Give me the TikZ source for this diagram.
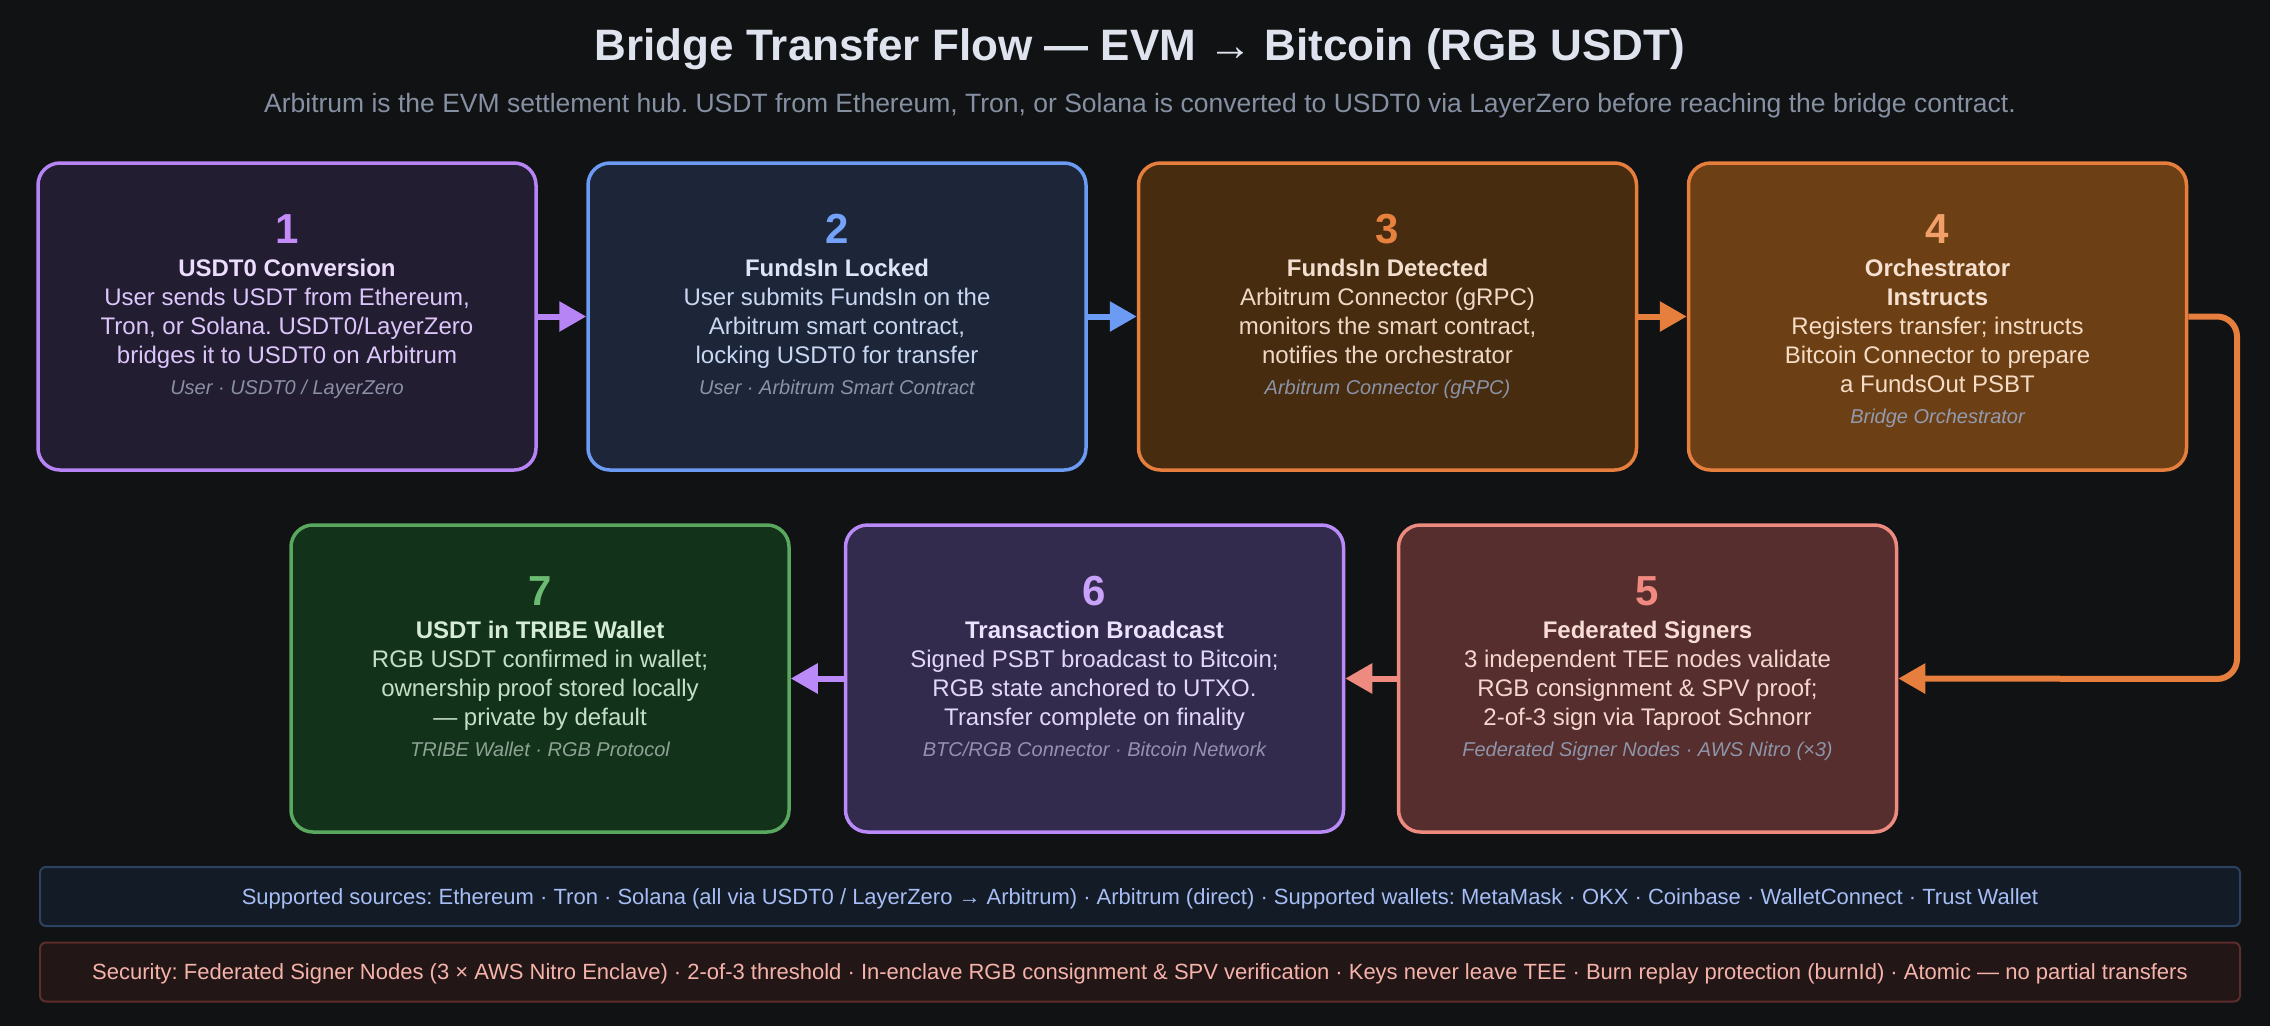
\documentclass[tikz,border=0pt]{standalone}
\usepackage{fontspec}
\setmainfont{Liberation Sans}
\frenchspacing
\usetikzlibrary{arrows.meta,calc}
\definecolor{bg}{HTML}{111213}
\definecolor{titlec}{HTML}{DFE3EE}
\definecolor{subc}{HTML}{8690A3}
% box palettes
\definecolor{Afill}{HTML}{221D31}\definecolor{Aline}{HTML}{B784F5}\definecolor{Anum}{HTML}{C38CF8}\definecolor{Attl}{HTML}{ECDCFD}\definecolor{Atxt}{HTML}{DCC6FB}\definecolor{Afoot}{HTML}{8A8FA6}
\definecolor{Bfill}{HTML}{1C2638}\definecolor{Bline}{HTML}{6C9BF4}\definecolor{Bnum}{HTML}{73A2F8}\definecolor{Bttl}{HTML}{DCE6F8}\definecolor{Btxt}{HTML}{C9D7F2}\definecolor{Bfoot}{HTML}{8A93A8}
\definecolor{Cfill}{HTML}{472C10}\definecolor{Cline}{HTML}{E67F3D}\definecolor{Cnum}{HTML}{E8803E}\definecolor{Cttl}{HTML}{F3DFD0}\definecolor{Ctxt}{HTML}{EFD9C6}\definecolor{Cfoot}{HTML}{8B93A6}
\definecolor{Dfill}{HTML}{6C4014}\definecolor{Dline}{HTML}{E67F3D}\definecolor{Dnum}{HTML}{F2A06A}\definecolor{Dttl}{HTML}{F6E0D0}\definecolor{Dtxt}{HTML}{F5DCC7}\definecolor{Dfoot}{HTML}{939BB0}
\definecolor{Efill}{HTML}{552E2D}\definecolor{Eline}{HTML}{EE8B81}\definecolor{Enum}{HTML}{F08A80}\definecolor{Ettl}{HTML}{F8DCD6}\definecolor{Etxt}{HTML}{F5D7D0}\definecolor{Efoot}{HTML}{8E95AA}
\definecolor{Ffill}{HTML}{322B4D}\definecolor{Fline}{HTML}{B98AF8}\definecolor{Fnum}{HTML}{C9A2FA}\definecolor{Fttl}{HTML}{ECE2FD}\definecolor{Ftxt}{HTML}{E2D6FB}\definecolor{Ffoot}{HTML}{9590B0}
\definecolor{Gfill}{HTML}{12331A}\definecolor{Gline}{HTML}{5AA85F}\definecolor{Gnum}{HTML}{6CBB72}\definecolor{Gttl}{HTML}{D7ECD8}\definecolor{Gtxt}{HTML}{C4DFC6}\definecolor{Gfoot}{HTML}{8EA396}
\definecolor{srcfill}{HTML}{131B26}\definecolor{srcline}{HTML}{2C4262}\definecolor{srctxt}{HTML}{A6BDF5}
\definecolor{secfill}{HTML}{231616}\definecolor{secline}{HTML}{5B2D2C}\definecolor{sectxt}{HTML}{F5B3AA}

\tikzset{
  stepbox/.style={draw, rounded corners=22pt, line width=3.5pt, minimum width=498pt, minimum height=307pt, inner sep=0pt},
  numtxt/.style={font=\fontsize{42}{42}\selectfont\bfseries, anchor=base, inner sep=0pt},
  steptxt/.style={font=\fontsize{24}{29}\selectfont, align=center, anchor=north, inner sep=0pt},
  flow/.style={line width=6pt, -{Triangle[length=27pt,width=29pt]}},
  barbox/.style={rounded corners=6pt, line width=2pt, minimum width=2200pt, minimum height=59pt, inner sep=0pt},
  bartxt/.style={font=\fontsize{22}{26}\selectfont, anchor=base, inner sep=0pt},
}

% #1 name, #2 center x, #3 top y, #4 palette, #5 number, #6 title+body lines, #7 footer
\newcommand\flowstep[7]{%
  \node[stepbox, fill=#4fill, draw=#4line] (#1) at (#2,{#3+153.5}) {};
  \node[numtxt, text=#4num] (#1num) at (#2,{#3+80}) {#5};
  \node[steptxt, text=#4txt] (#1txt) at (#2,{#3+93}) {\rule{0pt}{20pt}#6\\[2pt]{\fontsize{20}{24}\selectfont\itshape\color{#4foot}#7}};
}

\begin{document}
\begin{tikzpicture}[x=1pt,y=-1pt]
\useasboundingbox (0,0) rectangle (2270,1026);
\fill[bg] (0,0) rectangle (2270,1026);

\node[anchor=base, inner sep=0pt, text=titlec, font=\fontsize{44}{50}\selectfont\bfseries] (title) at (1140,60) {Bridge Transfer Flow — EVM → Bitcoin (RGB USDT)};
\node[anchor=base, inner sep=0pt, text=subc, font=\fontsize{26.5}{30}\selectfont] (subtitle) at (1140,112) {Arbitrum is the EVM settlement hub. USDT from Ethereum, Tron, or Solana is converted to USDT0 via LayerZero before reaching the bridge contract.};

\flowstep{b1}{287}{163}{A}{1}{{\bfseries\color{Attl}USDT0 Conversion}\\User sends USDT from Ethereum,\\Tron, or Solana. USDT0/LayerZero\\bridges it to USDT0 on Arbitrum}{User · USDT0 / LayerZero}
\flowstep{b2}{837}{163}{B}{2}{{\bfseries\color{Bttl}FundsIn Locked}\\User submits FundsIn on the\\Arbitrum smart contract,\\locking USDT0 for transfer}{User · Arbitrum Smart Contract}
\flowstep{b3}{1387.5}{163}{C}{3}{{\bfseries\color{Cttl}FundsIn Detected}\\Arbitrum Connector (gRPC)\\monitors the smart contract,\\notifies the orchestrator}{Arbitrum Connector (gRPC)}
\flowstep{b4}{1937.5}{163}{D}{4}{{\bfseries\color{Dttl}Orchestrator}\\{\bfseries\color{Dttl}Instructs}\\Registers transfer; instructs\\Bitcoin Connector to prepare\\a FundsOut PSBT}{Bridge Orchestrator}

\flowstep{b5}{1647.5}{525}{E}{5}{{\bfseries\color{Ettl}Federated Signers}\\3 independent TEE nodes validate\\RGB consignment \& SPV proof;\\2-of-3 sign via Taproot Schnorr}{Federated Signer Nodes · AWS Nitro (×3)}
\flowstep{b6}{1094.5}{525}{F}{6}{{\bfseries\color{Fttl}Transaction Broadcast}\\Signed PSBT broadcast to Bitcoin;\\RGB state anchored to UTXO.\\Transfer complete on finality}{BTC/RGB Connector · Bitcoin Network}
\flowstep{b7}{540}{525}{G}{7}{{\bfseries\color{Gttl}USDT in TRIBE Wallet}\\RGB USDT confirmed in wallet;\\ownership proof stored locally\\— private by default}{TRIBE Wallet · RGB Protocol}

\coordinate (lr1) at (2237,316.5);
\coordinate (lr2) at (2237,679);
\draw[flow, Aline] (b1.east) -- (b2.west);
\draw[flow, Bline] (b2.east) -- (b3.west);
\draw[flow, Cline] (b3.east) -- (b4.west);
\draw[flow, Dline, rounded corners=20pt] (b4.east) -- (lr1) -- (lr2) -- (b5.east);
\draw[flow, Eline] (b5.west) -- (b6.east);
\draw[flow, Fline] (b6.west) -- (b7.east);

\node[barbox, fill=srcfill, draw=srcline] (srcbar) at (1140,896.5) {};
\node[bartxt, text=srctxt] (srctext) at (1140,904) {Supported sources: Ethereum · Tron · Solana (all via USDT0 / LayerZero → Arbitrum) · Arbitrum (direct) · Supported wallets: MetaMask · OKX · Coinbase · WalletConnect · Trust Wallet};
\node[barbox, fill=secfill, draw=secline] (secbar) at (1140,972) {};
\node[bartxt, text=sectxt] (sectext) at (1140,979) {Security: Federated Signer Nodes (3 × AWS Nitro Enclave) · 2-of-3 threshold · In-enclave RGB consignment \& SPV verification · Keys never leave TEE · Burn replay protection (burnId) · Atomic — no partial transfers};
\end{tikzpicture}
\end{document}
